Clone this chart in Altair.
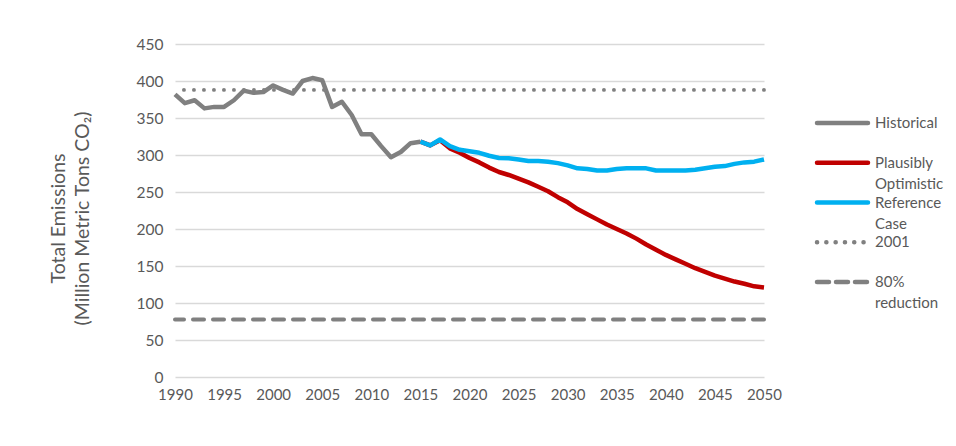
import altair as alt
import pandas as pd

hist_years = list(range(1990, 2016))
hist_values = [382, 370, 374, 363, 365, 365, 374, 387, 384, 385, 394, 388, 383,
               400, 404, 401, 365, 372, 354, 328, 328, 312, 297, 304, 316, 318]

proj_years = list(range(2015, 2051))
plausibly = [318, 313, 320, 309, 303, 296, 290, 283, 277, 273, 268, 263, 257, 251,
             243, 236, 227, 220, 213, 206, 200, 194, 187, 179, 172, 165, 159, 153,
             147, 142, 137, 133, 129, 126, 122.5, 121]
reference = [318, 313, 321, 312, 307, 305, 303, 299, 296, 295.5, 294, 292, 292, 291,
             289, 286, 282, 281, 279, 279, 281, 282, 282, 282, 279, 279, 279, 279,
             280, 282, 284, 285, 288, 290, 291, 294]

level_2001 = 388
level_80 = 77.6

legend_names = ["Historical", "Plausibly\nOptimistic", "Reference\nCase", "2001", "80%\nreduction"]
legend_colors = ["#808080", "#c00000", "#00b0f0", "#808080", "#808080"]

FONT = "Lato"
TXT = "#595959"

hist_df = pd.DataFrame({"year": hist_years, "value": hist_values})
proj_df = pd.DataFrame({"year": proj_years, "plaus": plausibly, "ref": reference})

xscale = alt.Scale(domain=[1990, 2050], nice=False)
xaxis = alt.Axis(values=list(range(1990, 2051, 5)), format="d", title=None,
                 grid=False, domain=False, ticks=False, labelPadding=10, labelFlush=False,
                 labelOverlap=False,
                 labelFontSize=15, labelColor=TXT, labelFont=FONT)
yscale = alt.Scale(domain=[0, 450], nice=False)
yaxis = alt.Axis(values=list(range(0, 451, 50)), title=["Total Emissions", "(Million Metric Tons CO₂)"],
                 titleFontSize=19.5, titleFont=FONT, titleColor=TXT, titleFontWeight="normal",
                 titlePadding=44, titleLineHeight=24, titleY=174,
                 labelFlush=False, labelOverlap=False,
                 grid=True, gridColor="#d9d9d9", gridWidth=1.3, domain=False, ticks=False,
                 labelPadding=12, labelFontSize=15.5, labelColor=TXT, labelFont=FONT)


def X(f):
    return alt.X(f, scale=xscale, axis=xaxis)


def Y(f):
    return alt.Y(f, scale=yscale, axis=yaxis)


hist = alt.Chart(hist_df).mark_line(color="#808080", strokeWidth=4.5, strokeJoin="round").encode(
    x=X("year:Q"), y=Y("value:Q"))
red = alt.Chart(proj_df).mark_line(color="#c00000", strokeWidth=4.5, strokeJoin="round").encode(
    x=X("year:Q"), y=Y("plaus:Q"))
blue = alt.Chart(proj_df).mark_line(color="#00b0f0", strokeWidth=4.5, strokeJoin="round").encode(
    x=X("year:Q"), y=Y("ref:Q"))
dotted = alt.Chart(pd.DataFrame({"v": [level_2001]})).mark_rule(
    color="#808080", strokeWidth=3.8, strokeDash=[0.1, 9.9], strokeCap="round").encode(y=Y("v:Q"))
dashed = alt.Chart(pd.DataFrame({"v": [level_80]})).mark_rule(
    color="#808080", strokeWidth=4, strokeDash=[11, 9], strokeCap="round").encode(y=Y("v:Q"))

main = alt.layer(hist, dotted, dashed, red, blue).properties(width=589, height=333)

leg_df = pd.DataFrame({"name": legend_names, "color": legend_colors,
                       "dash": ["solid", "solid", "solid", "dot", "dash"]})
yleg = alt.Y("name:N", sort=legend_names, axis=None,
             scale=alt.Scale(type="point", domain=legend_names, range=[79, 238], padding=0))
color_enc = alt.Color("color:N", scale=None)
sym = alt.Chart(leg_df).mark_rule(strokeWidth=4.5, strokeCap="round").encode(
    x=alt.value(2), x2=alt.value(53), y=yleg, color=color_enc,
    strokeDash=alt.StrokeDash("dash:N", legend=None,
                              scale=alt.Scale(domain=["solid", "dot", "dash"],
                                              range=[[1, 0], [0.1, 9.2], [12, 7]])))
lab = alt.Chart(leg_df).mark_text(align="left", baseline="alphabetic", dy=5, lineBreak="\n",
                                  lineHeight=21, fontSize=15, font=FONT, color=TXT).encode(
    x=alt.value(60), y=yleg, text="name:N")
legend = alt.layer(sym, lab).properties(width=60, height=333)

chart = alt.hconcat(main, legend, spacing=51, bounds="flush").properties(
    padding={"left": 40, "top": 29, "right": 0, "bottom": 5}
).configure_view(stroke=None)

chart.save("out.html", embed_options={"renderer": "svg", "actions": False})
